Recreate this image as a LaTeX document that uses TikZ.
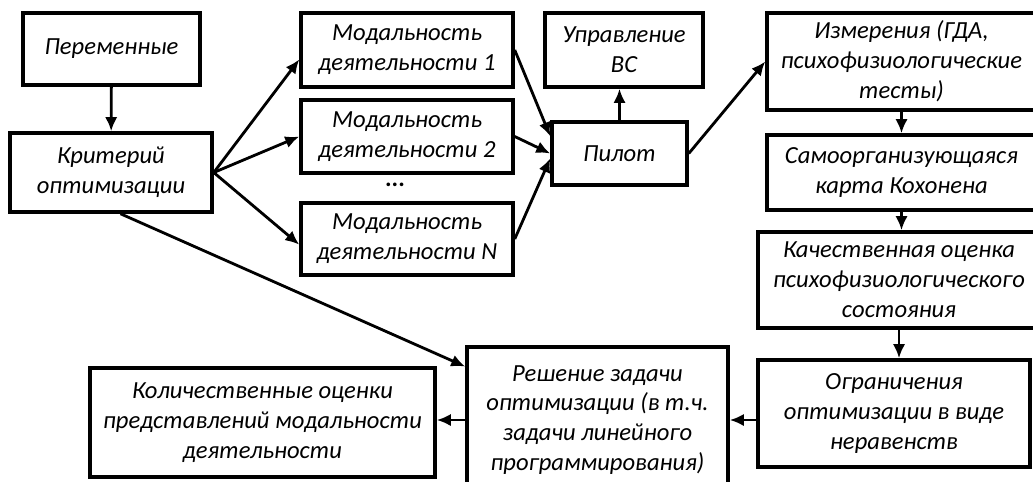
\documentclass[tikz,border=0pt]{standalone}
\usepackage{fontspec}
\setmainfont{Carlito}
\usetikzlibrary{arrows.meta}

\begin{document}
\begin{tikzpicture}[x=0.02cm,y=-0.02cm,
 box/.style={draw,line width=2pt,align=center,inner sep=2pt,font=\itshape\fontsize{14}{17}\selectfont},
 arr/.style={line width=1.6pt,-{Latex[length=8pt,width=7pt]}}]
 \useasboundingbox (0,0) rectangle (1033,481); %рамка рисунка
 \clip (0,0) rectangle (1033,481);
 \node[box,minimum width=3.54cm,minimum height=1.44cm] (var) at (111.5,49) {Переменные}; %переменные
 \node[box,minimum width=4.04cm,minimum height=1.58cm] (crit) at (111,172.5) {Критерий\\ оптимизации}; %критерий
 \node[box,minimum width=4.24cm,minimum height=1.48cm] (mod1) at (407,50) {Модальность\\ деятельности 1}; %модальность 1
 \node[box,minimum width=4.24cm,minimum height=1.46cm] (mod2) at (407,136.5) {Модальность\\ деятельности 2}; %модальность 2
 \node[font=\bfseries\fontsize{14}{16}\selectfont] (dots) at (395,185) {...}; %пропуск
 \node[box,minimum width=4.24cm,minimum height=1.44cm] (modN) at (407,239) {Модальность\\ деятельности N}; %модальность N
 \node[box,minimum width=3.16cm,minimum height=1.48cm] (ctrl) at (624,50) {Управление\\ ВС}; %управление
 \node[box,minimum width=2.70cm,minimum height=1.26cm] (pilot) at (619.5,153.5) {Пилот}; %пилот
 \node[box,minimum width=5.38cm,minimum height=1.94cm] (meas) at (901.5,61.5) {Измерения (ГДА,\\ психофизиологические\\ тесты)}; %измерения
 \node[box,minimum width=5.38cm,minimum height=1.50cm] (som) at (901.5,172.5) {Самоорганизующаяся\\ карта Кохонена}; %карта
 \node[box,minimum width=5.64cm,minimum height=1.92cm] (qual) at (899,280) {Качественная оценка\\ психофизиологического\\ состояния}; %оценка
 \node[box,minimum width=5.44cm,minimum height=2.14cm] (lim) at (894,413.5) {Ограничения\\ оптимизации в виде\\ неравенств}; %ограничения
 \node[box,minimum width=5.22cm,minimum height=2.92cm] (sol) at (597.5,420) {Решение задачи\\ оптимизации (в т.ч.\\ задачи линейного\\ программирования)}; %решение
 \node[box,minimum width=6.90cm,minimum height=2.18cm] (qty) at (262.5,422.5) {Количественные оценки\\ представлений модальности\\ деятельности}; %итог
 \draw[arr] (var) -- (crit);
 \draw[arr] (crit.east) -- (mod1.185);
 \draw[arr] (crit.east) -- (mod2.west);
 \draw[arr] (crit.east) -- (modN.183);
 \draw[arr] (crit.283) -- (sol.158);
 \draw[arr] (mod1.east) -- (pilot.166);
 \draw[arr] (mod2.east) -- (pilot.west);
 \draw[arr] (modN.east) -- (pilot.184);
 \draw[arr] (pilot.north) -- (pilot.north |- ctrl.south);
 \draw[arr] (pilot.east) -- (meas.west);
 \draw[arr] (meas) -- (som);
 \draw[arr] (som.south) -- (som.south |- qual.north);
 \draw[arr] (qual.south) -- (qual.south |- lim.north);
 \draw[arr] (lim.west |- sol.east) -- (sol.east);
 \draw[arr] (sol.west) -- (sol.west -| qty.east);
\end{tikzpicture}
\end{document}
